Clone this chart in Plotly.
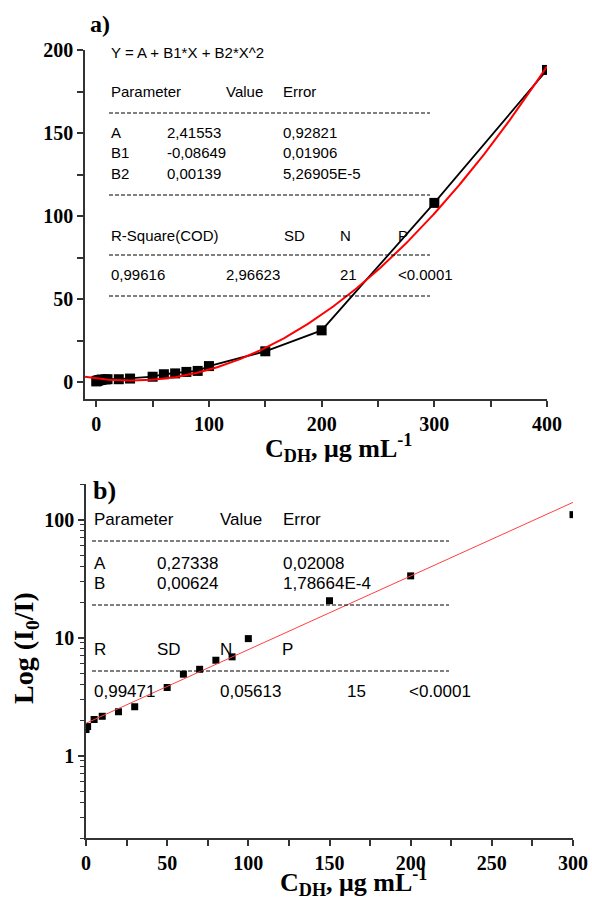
import numpy as np
import plotly.graph_objects as go

W, H = 592, 897

# ---- panel a) data ----
conc_a = [0, 0.5, 1, 2, 3, 4, 5, 8, 10, 20, 30, 50, 60, 70, 80, 90, 100, 150, 200, 300, 400]
signal_a = [0.6, 0.8, 1.0, 1.2, 1.4, 1.5, 1.7, 1.8, 1.9, 1.9, 2.3, 3.4, 4.9, 5.4, 6.3, 6.9, 9.8, 18.7, 31.3, 108, 188]
fit_a_A, fit_a_B1, fit_a_B2 = 2.41553, -0.08649, 0.00139

# ---- panel b) data ----
conc_b = [0, 1, 5, 10, 20, 30, 50, 60, 70, 80, 90, 100, 150, 200, 300]
signal_b = [1.66, 1.76, 2.02, 2.15, 2.35, 2.59, 3.77, 4.89, 5.38, 6.42, 6.86, 9.79, 20.5, 33.3, 110]
fit_b_A, fit_b_B = 0.27338, 0.00624

xa_ticks = [0, 100, 200, 300, 400]
ya_ticks = [0, 50, 100, 150, 200]
xb_ticks = [0, 50, 100, 150, 200, 250, 300]
yb_ticks = [1, 10, 100]

fx_a = np.linspace(-10, 400, 300)
fy_a = fit_a_A + fit_a_B1 * fx_a + fit_a_B2 * fx_a ** 2
fx_b = np.linspace(0, 300, 50)
fy_b = 10 ** (fit_b_A + fit_b_B * fx_b)

fig = go.Figure()
fig.add_trace(go.Scatter(x=conc_a, y=signal_a, mode="lines+markers",
                         line=dict(color="black", width=1.8),
                         marker=dict(symbol="square", size=10, color="black"),
                         xaxis="x", yaxis="y", showlegend=False))
fig.add_trace(go.Scatter(x=fx_a, y=fy_a, mode="lines",
                         line=dict(color="#ff0000", width=2),
                         xaxis="x", yaxis="y", showlegend=False))
fig.add_trace(go.Scatter(x=conc_b, y=signal_b, mode="markers",
                         marker=dict(symbol="square", size=7, color="black"),
                         xaxis="x2", yaxis="y2", showlegend=False))
fig.add_trace(go.Scatter(x=fx_b, y=fy_b, mode="lines",
                         line=dict(color="#ff4040", width=1),
                         xaxis="x2", yaxis="y2", showlegend=False))

tickfont = dict(family="Liberation Serif", size=20, color="black", weight="bold")
axcommon = dict(showline=True, linewidth=1.5, linecolor="#333", ticks="outside",
                ticklen=6, tickwidth=1.5, tickcolor="#333", showgrid=False,
                zeroline=False, tickfont=tickfont, automargin=False)

def px(x):
    return x / W

def py(y):
    return 1 - y / H

fig.update_layout(
    width=W, height=H, margin=dict(l=0, r=0, t=0, b=0),
    paper_bgcolor="white", plot_bgcolor="white",
    xaxis=dict(domain=[px(85), px(547)], range=[-10, 400], anchor="y",
               tickmode="array", tickvals=xa_ticks,
               minor=dict(tickmode="array", tickvals=[50, 150, 250, 350], ticks="outside",
                          ticklen=6, tickwidth=1.5, tickcolor="#333"), **axcommon),
    yaxis=dict(domain=[py(399), py(50)], range=[-10, 200], anchor="x",
               tickmode="array", tickvals=ya_ticks,
               minor=dict(tickmode="array", tickvals=[25, 75, 125, 175], ticks="outside",
                          ticklen=6, tickwidth=1.5, tickcolor="#333"), **axcommon),
    xaxis2=dict(domain=[px(86), px(573)], range=[0, 300], anchor="y2",
                tickmode="array", tickvals=xb_ticks,
                minor=dict(tickmode="array", tickvals=[25, 75, 125, 175, 225, 275], ticks="outside",
                           ticklen=6, tickwidth=1.5, tickcolor="#333"), **axcommon),
    yaxis2=dict(domain=[py(838), py(484)], type="log",
                range=[np.log10(0.2), np.log10(200)], anchor="x2",
                tickmode="array", tickvals=yb_ticks,
                minor=dict(tickmode="array",
                           tickvals=[0.2, 0.3, 0.4, 0.5, 0.6, 0.7, 0.8, 0.9,
                                     2, 3, 4, 5, 6, 7, 8, 9,
                                     20, 30, 40, 50, 60, 70, 80, 90, 200],
                           ticks="outside", ticklen=4, tickwidth=1.2, tickcolor="#333"),
                **axcommon),
)

anns = []

def ann(x, y, text, size, family="Liberation Sans", weight="normal", xanchor="left", angle=0):
    anns.append(dict(x=px(x), y=py(y), xref="paper", yref="paper", text=text,
                     showarrow=False, xanchor=xanchor, yanchor="middle", textangle=angle,
                     font=dict(family=family, size=size, color="black", weight=weight)))

# panel labels and axis titles
ann(100, 24, "a)", 24, "Liberation Serif", "bold", "center")
ann(104, 490, "b)", 26, "Liberation Serif", "bold", "center")
ann(263, 448, "C<sub>DH</sub>, μg mL<sup>-1</sup>", 26, "Liberation Serif", "bold")
ann(278, 882, "C<sub>DH</sub>, μg mL<sup>-1</sup>", 26, "Liberation Serif", "bold")
ann(25, 648, "Log (I<sub>0</sub>/I)", 28, "Liberation Serif", "bold", "center", -90)

# panel a table
fa = 15
ann(109, 52, "Y = A + B1*X + B2*X^2", fa)
ann(109, 91, "Parameter", fa); ann(224, 91, "Value", fa); ann(281, 91, "Error", fa)
ann(109, 132, "A", fa); ann(165, 132, "2,41553", fa); ann(281, 132, "0,92821", fa)
ann(109, 152, "B1", fa); ann(165, 152, "-0,08649", fa); ann(281, 152, "0,01906", fa)
ann(109, 173, "B2", fa); ann(165, 173, "0,00139", fa); ann(281, 173, "5,26905E-5", fa)
ann(109, 235, "R-Square(COD)", fa); ann(282, 235, "SD", fa); ann(338, 235, "N", fa); ann(396, 235, "P", fa)
ann(109, 275, "0,99616", fa); ann(224, 275, "2,96623", fa); ann(338, 275, "21", fa); ann(396, 275, "&lt;0.0001", fa)

# panel b table
fb = 17
ann(92, 519, "Parameter", fb); ann(218, 519, "Value", fb); ann(281, 519, "Error", fb)
ann(92, 563, "A", fb); ann(155, 563, "0,27338", fb); ann(281, 563, "0,02008", fb)
ann(92, 583, "B", fb); ann(155, 583, "0,00624", fb); ann(281, 583, "1,78664E-4", fb)
ann(92, 649, "R", fb); ann(155, 649, "SD", fb); ann(218, 649, "N", fb); ann(280, 649, "P", fb)
ann(92, 691, "0,99471", fb); ann(218, 691, "0,05613", fb); ann(345, 691, "15", fb); ann(407, 691, "&lt;0.0001", fb)

shapes = []
for (x0, x1, y) in [(109, 430, 113), (109, 430, 195), (109, 430, 255), (109, 430, 296),
                    (92, 449, 541), (92, 449, 605), (92, 449, 671)]:
    shapes.append(dict(type="line", xref="paper", yref="paper", x0=px(x0), x1=px(x1),
                       y0=py(y), y1=py(y), line=dict(color="black", width=1.2, dash="4px,2px")))

fig.update_layout(annotations=anns, shapes=shapes)
fig.write_html("out.html", config={"displayModeBar": False},
               post_script="document.body.style.margin='0px';document.body.style.overflow='hidden';")
